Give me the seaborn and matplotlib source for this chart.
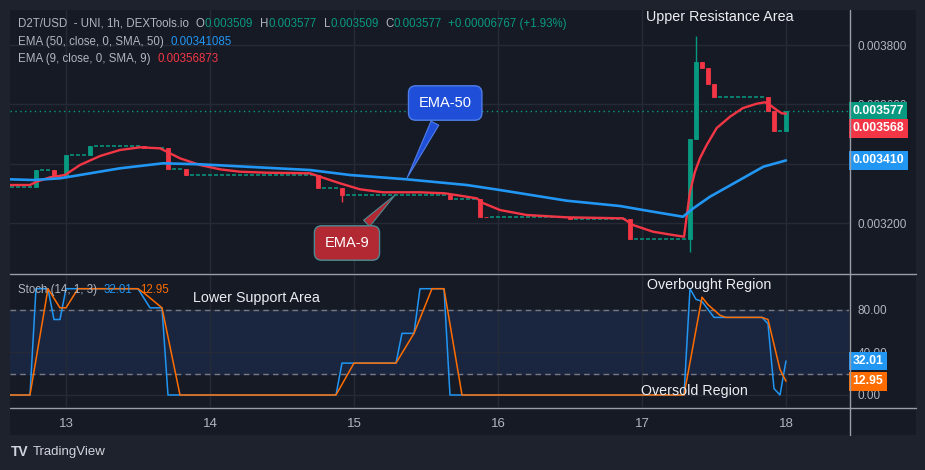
import numpy as np
import pandas as pd
import matplotlib
matplotlib.use('Agg')
import matplotlib.pyplot as plt
import seaborn as sns
from matplotlib.patches import Rectangle
from matplotlib.lines import Line2D

# hours counted from day 13 00:00, 1h candles (only the ones that moved)
candle_h = [-5, -2, 0, 4, 13, 17, 20, 42, 46, 64, 69, 70, 84, 94, 104, 105, 106, 107, 108, 117, 118, 120]
open_p = [0.0033223, 0.0033787, 0.0033584, 0.0034292, 0.0034596, 0.0034528, 0.003382, 0.0033635, 0.003319,
          0.0032944, 0.0032799, 0.0032212, 0.0032192, 0.0032152, 0.003145, 0.0034848, 0.0037417, 0.0037215,
          0.0036696, 0.0036237, 0.0035785, 0.003509]
close_p = [0.0033787, 0.0033584, 0.0034292, 0.0034596, 0.0034528, 0.003382, 0.0033635, 0.003319, 0.0032944,
           0.0032799, 0.0032212, 0.0032192, 0.0032152, 0.003145, 0.0034848, 0.0037417, 0.0037215, 0.0036696,
           0.0036237, 0.0035785, 0.003509, 0.003577]
high_p = [0.0033787, 0.0033787, 0.0034292, 0.0034596, 0.0034596, 0.0034528, 0.003382, 0.0033635, 0.003319,
          0.0032944, 0.0032799, 0.0032212, 0.0032192, 0.0032152, 0.0034848, 0.0038303, 0.0037417, 0.0037215,
          0.0036696, 0.0036237, 0.0035785, 0.003577]
low_p = [0.0033223, 0.0033584, 0.0033584, 0.0034292, 0.0034528, 0.003382, 0.0033635, 0.003319, 0.0032718,
         0.0032799, 0.0032212, 0.0032192, 0.0032152, 0.003145, 0.0031033, 0.0034848, 0.0037215, 0.0036696,
         0.0036237, 0.0035785, 0.003509, 0.003509]
start_price = 0.0033223
first_hour = -10
last_hour = 120

# moving averages
ema9_h = [-9.33, -6, -4.9, -2.67, -0.17, 2.33, 5.67, 9, 12.33, 15.67, 19, 22.33, 25.67, 29, 33.45, 40.67, 42.33,
          45.67, 49, 52.83, 59, 63.17, 68.45, 69.5, 72.33, 76.78, 83.45, 92.83, 94.5, 97.83, 101.17, 103, 104,
          104.83, 105.67, 106.78, 108.45, 110.67, 112.83, 115.12, 116.5, 117.33, 118.45, 119.28, 120]
ema9_p = [0.0033281, 0.0033281, 0.0033392, 0.003354, 0.0033618, 0.0033955, 0.0034258, 0.0034461, 0.0034552,
          0.0034518, 0.0034181, 0.0033955, 0.003381, 0.0033729, 0.0033696, 0.0033675, 0.0033561, 0.0033338,
          0.0033136, 0.0033035, 0.0033035, 0.0033001, 0.0032833, 0.0032674, 0.0032438, 0.003227, 0.0032192,
          0.0032158, 0.0031933, 0.0031707, 0.0031595, 0.0031538, 0.0033055, 0.0033729, 0.0034191, 0.0034629,
          0.0035202, 0.0035583, 0.0035876, 0.0036021, 0.0036069, 0.0035978, 0.0035809, 0.0035698, 0.0035687]
ema50_h = [-9.33, -5.5, -1, 2.33, 9, 16.17, 22.33, 40.67, 47.33, 56.78, 66.78, 72.33, 83.45, 92.33, 97.83,
           102.83, 104.55, 107.33, 111.78, 116.22, 120]
ema50_p = [0.0033473, 0.0033449, 0.0033507, 0.0033618, 0.0033844, 0.0034012, 0.0033979, 0.0033786, 0.0033618,
           0.0033473, 0.0033281, 0.0033112, 0.0032752, 0.0032573, 0.0032381, 0.0032212, 0.0032495, 0.0032887,
           0.0033392, 0.0033898, 0.0034109]

# stochastic %K and %D
k_h = [-10, -6, -5, -3, -2, -1, 0, 12, 14, 16, 17, 45, 46, 55, 56, 58, 59, 63, 64, 103, 104, 105, 106, 108,
       116, 117, 118, 119, 120]
k_v = [0, 0, 100, 100, 71, 71, 100, 100, 82, 82, 0, 0, 30, 30, 58, 58, 100, 100, 0, 0, 100, 90, 88, 73, 73,
       67, 6, 0, 32.01]
d_h = [-10, -6, -3, -1, 0, 2, 12, 13, 16, 19, 45, 48, 55, 58, 61, 63, 66, 103, 106, 107, 109, 110, 116, 117,
       119, 120]
d_v = [0, 0, 100, 82, 82, 100, 100, 96, 82, 0, 0, 30, 30, 58, 100, 100, 0, 0, 92, 85, 75, 73, 73, 71, 24, 12.95]

day_ticks = [0, 24, 48, 72, 96, 120]
day_labels = ['13', '14', '15', '16', '17', '18']
price_ticks = [0.0032, 0.0034, 0.0036, 0.0038]
price_labels = ['0.003200', '', '0.003600', '0.003800']  # 0.003400 sits under the blue tag
stoch_ticks = [0, 40, 80]

green = '#089981'
red = '#f23645'
blue = '#2196f3'
orange = '#ff6d00'
gray = '#b2b5be'
bg = '#161a25'
grid_c = '#262a36'

sns.set_style('dark')
plt.rcParams['font.family'] = ['Liberation Sans', 'DejaVu Sans']

W, H = 925, 470
fig = plt.figure(figsize=(W / 100, H / 100), dpi=100, facecolor='#1e222d')
fig.add_artist(Rectangle((10 / W, 1 - 435 / H), 906 / W, 425 / H, transform=fig.transFigure,
                         facecolor=bg, edgecolor='none', zorder=-5))

ax = fig.add_axes([10 / W, 1 - 273 / H, 839 / W, 263 / H])
ax2 = fig.add_axes([10 / W, 1 - 407 / H, 839 / W, 132 / H], sharex=ax)

for a in (ax, ax2):
    a.set_facecolor(bg)
    for s in a.spines.values():
        s.set_visible(False)
    a.grid(True, color=grid_c, lw=1)
    a.set_axisbelow(True)
    a.yaxis.tick_right()
    a.tick_params(length=0, colors=gray, labelsize=8.5, pad=6)

# flat hours (no trades) keep the previous close
cl = dict(zip(candle_h, close_p))
flat_h, flat_p = [], []
level = start_price
for h in range(first_hour, last_hour + 1):
    if h in cl:
        level = cl[h]
    else:
        flat_h.append(h)
        flat_p.append(level)
flat_h = np.array(flat_h)
ax.hlines(flat_p, flat_h - 0.33, flat_h + 0.33, color=green, lw=1.1, zorder=2)

df = pd.DataFrame({'h': candle_h, 'o': open_p, 'c': close_p, 'hi': high_p, 'lo': low_p})
df['col'] = np.where(df['c'] >= df['o'], green, red)
ax.vlines(df['h'], df['lo'], df['hi'], color=df['col'], lw=1, zorder=2)
ax.bar(df['h'], df['c'] - df['o'], bottom=df['o'], width=0.8, color=df['col'], edgecolor=df['col'],
       lw=0.6, zorder=3)

ax.axhline(close_p[-1], color=green, ls=(0, (1, 2.5)), lw=1, zorder=1)

sns.lineplot(x=ema9_h, y=ema9_p, ax=ax, color=red, lw=1.7, sort=False, zorder=4)
sns.lineplot(x=ema50_h, y=ema50_p, ax=ax, color=blue, lw=1.9, sort=False, zorder=4)

ax.set_xlim(-9.33, 130.5)
ax.set_ylim(0.0030315, 0.003918)
ax.set_yticks(price_ticks)
ax.set_yticklabels(price_labels)
ax.set_xticks(day_ticks)
ax.tick_params(labelbottom=False)

# stochastic panel
ax2.axhspan(20, 80, color='#1a2640', zorder=0)
ax2.axhline(80, color='#787b86', ls=(0, (4, 3)), lw=1)
ax2.axhline(20, color='#787b86', ls=(0, (4, 3)), lw=1)
sns.lineplot(x=k_h, y=k_v, ax=ax2, color=blue, lw=1.1, sort=False, zorder=3)
sns.lineplot(x=d_h, y=d_v, ax=ax2, color=orange, lw=1.1, sort=False, zorder=3)
ax2.set_ylim(-11.3, 112.9)
ax2.set_yticks(stoch_ticks)
ax2.set_yticklabels(['%.2f' % v for v in stoch_ticks])
ax2.set_xticks(day_ticks)
ax2.set_xticklabels(day_labels)
ax2.tick_params(axis='x', pad=8, labelsize=9.5)
ax2.set_xlabel('')
ax.set_xlabel('')

# value boxes on the price scales
def tag(a, val, txt, col, dy=0):
    a.annotate(txt, xy=(1, val), xycoords=('axes fraction', 'data'), xytext=(2.5, dy),
               textcoords='offset points', ha='left', va='center', color='white', fontsize=8.8,
               fontweight='bold', annotation_clip=False, zorder=6,
               bbox=dict(boxstyle='square,pad=0.28', fc=col, ec='none'))

tag(ax, close_p[-1], '%.6f' % close_p[-1], green)
tag(ax, ema9_p[-1], '0.003568', red, dy=-10.5)
tag(ax, ema50_p[-1], '0.003410', blue)
tag(ax2, k_v[-1], '%.2f' % k_v[-1], blue)
tag(ax2, d_v[-1], '%.2f' % d_v[-1], orange)

# callouts
ax.annotate('EMA-50', xy=(56.67, 0.0033449), xytext=(63.2, 0.0036045), color='white', fontsize=10.5,
            ha='center', va='center', zorder=7, annotation_clip=False,
            bbox=dict(boxstyle='round,pad=0.7,rounding_size=0.5', fc='#1f4fd8', ec='#4f7de8', lw=1),
            arrowprops=dict(arrowstyle='wedge,tail_width=0.6,shrink_factor=0.5', fc='#1f4fd8',
                            ec='#4f7de8', lw=0.8))
ax.annotate('EMA-9', xy=(55.17, 0.0033011), xytext=(46.83, 0.0031326), color='white', fontsize=10.5,
            ha='center', va='center', zorder=7, annotation_clip=False,
            bbox=dict(boxstyle='round,pad=0.7,rounding_size=0.5', fc='#b22833', ec='#4d8a91', lw=1),
            arrowprops=dict(arrowstyle='wedge,tail_width=0.6,shrink_factor=0.5', fc='#b22833',
                            ec='#4d8a91', lw=0.8))

# frame lines
line_c = '#9a9da6'
fig.add_artist(Line2D([10 / W, 916 / W], [1 - 274 / H, 1 - 274 / H], color=line_c, lw=1))
fig.add_artist(Line2D([10 / W, 916 / W], [1 - 407.5 / H, 1 - 407.5 / H], color=line_c, lw=1))
fig.add_artist(Line2D([849.5 / W, 849.5 / W], [1 - 435 / H, 1 - 10 / H], color=line_c, lw=1))

# legend rows, pieces placed one after another
renderer = fig.canvas.get_renderer()

def row(x, y, parts, size=8.3):
    for s, c, gap in parts:
        t = fig.text(x / W, 1 - y / H, s, color=c, fontsize=size, va='center', ha='left')
        x = x + t.get_window_extent(renderer).width + gap

row(18, 24, [('D2T/USD  - UNI, 1h, DEXTools.io', gray, 7), ('O', gray, 0), ('0.003509', green, 7),
             ('H', gray, 0), ('0.003577', green, 7), ('L', gray, 0), ('0.003509', green, 7),
             ('C', gray, 0), ('0.003577', green, 6), ('+0.00006767 (+1.93%)', green, 0)])
row(18, 42, [('EMA (50, close, 0, SMA, 50)', gray, 7), ('0.00341085', blue, 0)])
row(18, 59, [('EMA (9, close, 0, SMA, 9)', gray, 7), ('0.00356873', red, 0)])
row(18, 290, [('Stoch (14, 1, 3)', gray, 7), ('32.01', blue, 7), ('12.95', orange, 0)])

# area labels
for s, x, y in [('Upper Resistance Area', 720, 17), ('Lower Support Area', 256, 298),
                ('Overbought Region', 709, 285), ('Oversold Region', 694, 391)]:
    fig.text(x / W, 1 - y / H, s, color='#eceef2', fontsize=10.3, ha='center', va='center')

fig.text(11 / W, 1 - 452 / H, 'TV', color='#d1d4dc', fontsize=10, fontweight='bold', va='center')
fig.text(33 / W, 1 - 452 / H, 'TradingView', color='#d1d4dc', fontsize=9.5, va='center')

fig.savefig('out.png', dpi=100, facecolor=fig.get_facecolor())
